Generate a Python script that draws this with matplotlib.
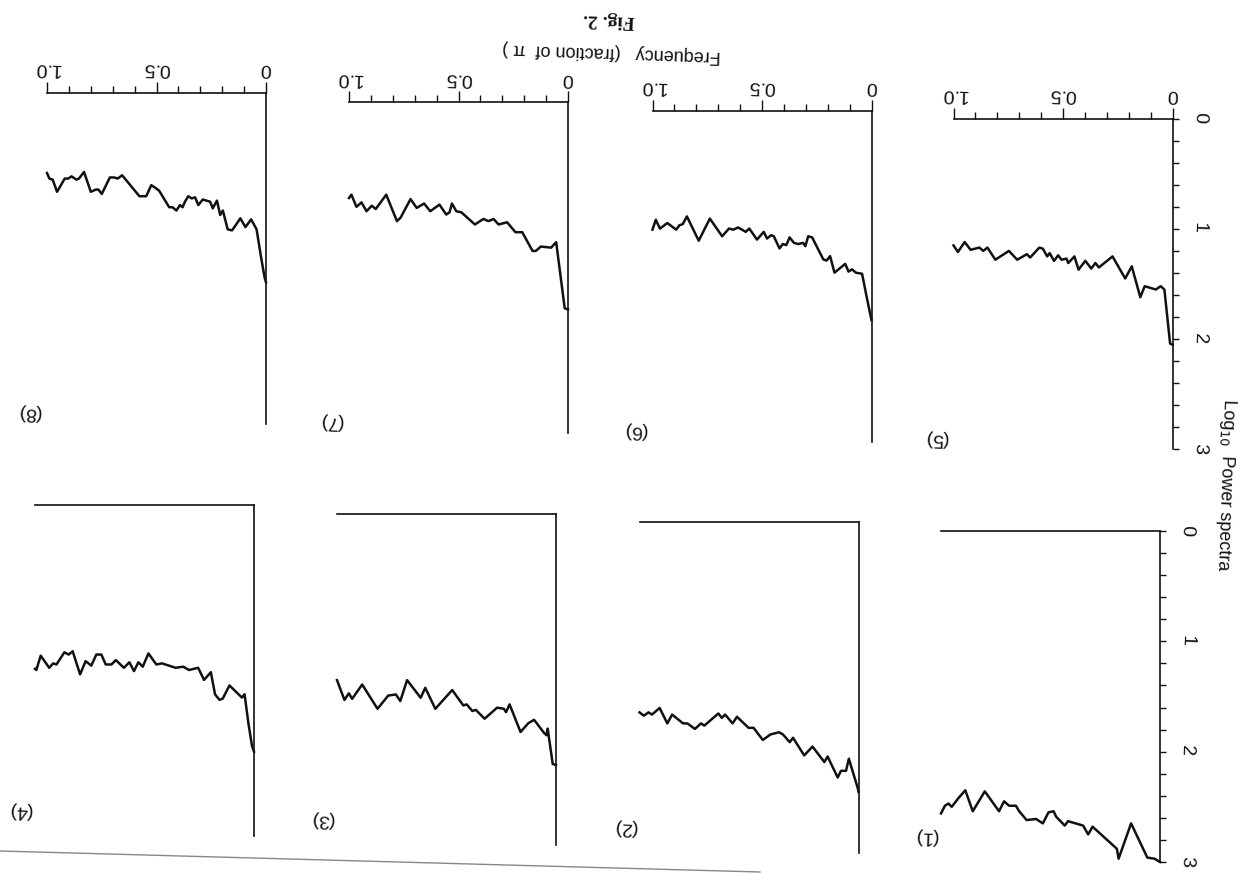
import matplotlib
matplotlib.use('Agg')
import matplotlib.pyplot as plt
from matplotlib.lines import Line2D
from matplotlib.ticker import MultipleLocator

plt.rcParams['font.family'] = ['Liberation Sans', 'DejaVu Sans']

# spectra: frequency (fraction of pi) vs log10 power
freq1 = [1.0, 0.982, 0.966, 0.951, 0.92, 0.889, 0.855, 0.8, 0.735, 0.712,
         0.689, 0.658, 0.643, 0.609, 0.566, 0.535, 0.509, 0.486, 0.474, 0.435,
         0.42, 0.351, 0.328, 0.308, 0.197, 0.189, 0.132, 0.058, 0.025, 0.0]
pow1 = [2.56, 2.49, 2.47, 2.50, 2.42, 2.35, 2.54, 2.36, 2.54, 2.45,
        2.49, 2.49, 2.54, 2.62, 2.61, 2.65, 2.55, 2.54, 2.59, 2.67,
        2.63, 2.67, 2.75, 2.68, 2.88, 2.97, 2.65, 2.96, 2.97, 3.0]

freq2 = [1.0, 0.98, 0.959, 0.943, 0.908, 0.873, 0.851, 0.801, 0.781, 0.747,
         0.719, 0.704, 0.64, 0.624, 0.609, 0.575, 0.555, 0.502, 0.479, 0.437,
         0.402, 0.363, 0.345, 0.314, 0.299, 0.248, 0.21, 0.156, 0.141, 0.095,
         0.08, 0.057, 0.044, 0.003, 0.0]
pow2 = [1.73, 1.76, 1.73, 1.75, 1.69, 1.83, 1.75, 1.83, 1.83, 1.88,
        1.83, 1.85, 1.74, 1.78, 1.75, 1.83, 1.77, 1.87, 1.87, 1.98,
        1.93, 1.91, 1.93, 2.00, 1.96, 2.12, 2.04, 2.18, 2.13, 2.32,
        2.26, 2.26, 2.15, 2.42, 2.45]

freq3 = [1.0, 0.966, 0.946, 0.931, 0.885, 0.815, 0.766, 0.731, 0.711, 0.68,
         0.618, 0.597, 0.551, 0.474, 0.423, 0.408, 0.382, 0.366, 0.326, 0.269,
         0.238, 0.228, 0.212, 0.162, 0.126, 0.1, 0.054, 0.043, 0.038, 0.015, 0.0]
pow3 = [1.51, 1.69, 1.63, 1.68, 1.55, 1.77, 1.65, 1.64, 1.70, 1.51,
        1.67, 1.58, 1.77, 1.60, 1.74, 1.73, 1.79, 1.78, 1.86, 1.76,
        1.77, 1.80, 1.73, 1.98, 1.90, 1.87, 1.99, 2.01, 1.95, 2.27, 2.28]

freq4 = [1.0, 0.994, 0.974, 0.935, 0.917, 0.902, 0.866, 0.846, 0.828, 0.794,
         0.769, 0.743, 0.72, 0.697, 0.677, 0.651, 0.631, 0.594, 0.569, 0.548,
         0.528, 0.508, 0.482, 0.446, 0.42, 0.358, 0.323, 0.297, 0.255, 0.228,
         0.197, 0.178, 0.158, 0.143, 0.112, 0.055, 0.043, 0.025, 0.009, 0.0]
pow4 = [1.49, 1.50, 1.37, 1.48, 1.44, 1.45, 1.34, 1.36, 1.33, 1.54,
        1.42, 1.46, 1.36, 1.36, 1.45, 1.45, 1.41, 1.48, 1.43, 1.51,
        1.43, 1.47, 1.35, 1.45, 1.44, 1.48, 1.47, 1.50, 1.48, 1.59,
        1.52, 1.72, 1.77, 1.76, 1.64, 1.75, 1.72, 1.99, 2.19, 2.24]

freq5 = [1.0, 0.98, 0.949, 0.922, 0.882, 0.864, 0.845, 0.809, 0.747, 0.709,
         0.665, 0.65, 0.608, 0.592, 0.572, 0.561, 0.541, 0.522, 0.507, 0.484,
         0.476, 0.448, 0.429, 0.398, 0.371, 0.352, 0.336, 0.274, 0.216, 0.186,
         0.147, 0.127, 0.076, 0.054, 0.037, 0.011, 0.0]
pow5 = [1.15, 1.21, 1.12, 1.19, 1.17, 1.20, 1.17, 1.28, 1.20, 1.28,
        1.23, 1.26, 1.17, 1.18, 1.25, 1.22, 1.29, 1.24, 1.28, 1.27,
        1.31, 1.25, 1.37, 1.29, 1.36, 1.31, 1.35, 1.25, 1.45, 1.34,
        1.62, 1.52, 1.55, 1.52, 1.55, 2.04, 2.05]

freq6 = [1.0, 0.985, 0.966, 0.932, 0.892, 0.877, 0.862, 0.843, 0.789, 0.738,
         0.682, 0.651, 0.631, 0.609, 0.574, 0.558, 0.523, 0.492, 0.477, 0.458,
         0.446, 0.42, 0.405, 0.389, 0.374, 0.354, 0.335, 0.312, 0.302, 0.289,
         0.271, 0.243, 0.22, 0.205, 0.189, 0.169, 0.12, 0.105, 0.089, 0.071,
         0.043, 0.02, 0.0]
pow6 = [1.08, 0.99, 1.07, 1.02, 1.08, 1.04, 1.03, 0.96, 1.18, 0.98,
        1.14, 1.07, 1.08, 1.06, 1.10, 1.07, 1.17, 1.10, 1.16, 1.13,
        1.14, 1.25, 1.21, 1.22, 1.15, 1.20, 1.21, 1.20, 1.23, 1.14,
        1.15, 1.26, 1.35, 1.36, 1.32, 1.47, 1.39, 1.46, 1.44, 1.47,
        1.48, 1.71, 1.90]

freq7 = [1.0, 0.989, 0.966, 0.943, 0.92, 0.896, 0.878, 0.83, 0.781, 0.765,
         0.719, 0.691, 0.657, 0.629, 0.587, 0.556, 0.541, 0.53, 0.51, 0.487,
         0.425, 0.386, 0.363, 0.34, 0.317, 0.278, 0.24, 0.209, 0.162, 0.147,
         0.124, 0.077, 0.054, 0.015, 0.0]
pow7 = [0.87, 0.84, 0.95, 0.91, 0.99, 0.94, 0.97, 0.84, 1.08, 1.05,
        0.88, 0.96, 0.92, 0.99, 0.93, 1.02, 1.00, 0.92, 0.99, 1.00,
        1.11, 1.06, 1.08, 1.06, 1.11, 1.09, 1.18, 1.18, 1.35, 1.35,
        1.31, 1.32, 1.27, 1.87, 1.88]

freq8 = [1.0, 0.989, 0.974, 0.954, 0.919, 0.903, 0.888, 0.866, 0.854, 0.831,
         0.8, 0.777, 0.765, 0.75, 0.713, 0.693, 0.677, 0.657, 0.578, 0.547,
         0.524, 0.508, 0.488, 0.442, 0.427, 0.409, 0.393, 0.381, 0.37, 0.355,
         0.339, 0.324, 0.309, 0.289, 0.255, 0.243, 0.224, 0.209, 0.197, 0.175,
         0.155, 0.117, 0.094, 0.068, 0.043, 0.022, 0.006, 0.0]
pow8 = [0.73, 0.78, 0.79, 0.90, 0.78, 0.78, 0.76, 0.79, 0.78, 0.72,
        0.90, 0.88, 0.88, 0.92, 0.77, 0.77, 0.78, 0.75, 0.94, 0.94,
        0.84, 0.86, 0.89, 1.04, 1.04, 1.07, 1.02, 1.04, 0.99, 0.94,
        0.96, 0.95, 1.02, 0.97, 0.99, 1.05, 0.98, 1.11, 1.07, 1.24,
        1.25, 1.14, 1.22, 1.15, 1.24, 1.50, 1.68, 1.72]

freq_ticks = [0, 0.5, 1.0]
freq_labels = ['0', '0.5', '1.0']
power_ticks = [0, 1, 2, 3]
power_labels = ['0', '1', '2', '3']

# the scan is upside down, so each panel is drawn flipped (pixel layout)
W, H = 1242, 873
PW, PH = 219, 331
panels = [
    (1, freq1, pow1, 941, 531),
    (2, freq2, pow2, 639.5, 521.5),
    (3, freq3, pow3, 337, 513.5),
    (4, freq4, pow4, 35, 504.5),
    (5, freq5, pow5, 953.5, 118.5),
    (6, freq6, pow6, 652.5, 110.5),
    (7, freq7, pow7, 349, 102),
    (8, freq8, pow8, 47, 92.5),
]
ink = '#111111'
rot = 178

fig = plt.figure(figsize=(W / 100, H / 100), dpi=100)

for num, fr, pw, left, top in panels:
    ax = fig.add_axes([left / W, 1 - (top + PH) / H, PW / W, PH / H])
    ax.patch.set_alpha(0)
    ax.plot(fr, pw, color=ink, lw=1.8, clip_on=False)
    ax.set_xlim(1, 0)
    ax.set_ylim(3, 0)
    ax.spines['left'].set_visible(False)
    ax.spines['bottom'].set_visible(False)
    for s in ['top', 'right']:
        ax.spines[s].set_linewidth(1.2)
        ax.spines[s].set_color(ink)
    ax.xaxis.tick_top()
    ax.yaxis.tick_right()

    if num >= 5:
        ax.set_xticks(freq_ticks)
        ax.set_xticklabels(freq_labels)
        ax.xaxis.set_minor_locator(MultipleLocator(0.1))
        ax.tick_params(axis='x', which='major', direction='out', length=8,
                       width=1, pad=3, labelsize=14, labelrotation=rot,
                       colors=ink)
        ax.tick_params(axis='x', which='minor', direction='out', length=5,
                       width=1, colors=ink)
    else:
        ax.set_xticks([])

    if num in (1, 5):
        ax.set_yticks(power_ticks)
        ax.set_yticklabels(power_labels)
        ax.yaxis.set_minor_locator(MultipleLocator(0.2))
        ax.tick_params(axis='y', which='both', direction='out', length=4,
                       width=1, pad=9, labelsize=14, labelrotation=rot + 90,
                       colors=ink)
    else:
        ax.set_yticks([])

    if num >= 5:
        lx, ly = -0.084, 0.036
    else:
        lx, ly = -0.069, 0.077
    ax.text(lx, ly, '(%d)' % num, transform=ax.transAxes, rotation=rot,
            ha='center', va='center', fontsize=14, color=ink)

fig.text(609 / W, 1 - 20 / H, 'Fig. 2.', rotation=rot, ha='center',
         va='center', fontsize=14, fontweight='bold',
         family='Liberation Serif', color=ink)
fig.text(611 / W, 1 - 52 / H, 'Frequency   (fraction of  π )', rotation=rot,
         ha='center', va='center', fontsize=13, color=ink)
fig.text(1225 / W, 1 - 485 / H, r'Log$_{10}$  Power spectra',
         rotation=rot + 90, ha='center', va='center', fontsize=13, color=ink)

# edge of the scanned page along the bottom
fig.add_artist(Line2D([0, 760 / W], [1 - 851 / H, 1 - 872 / H],
                      color='#555555', lw=1.0, alpha=0.7))

fig.savefig('out.png', dpi=100)
